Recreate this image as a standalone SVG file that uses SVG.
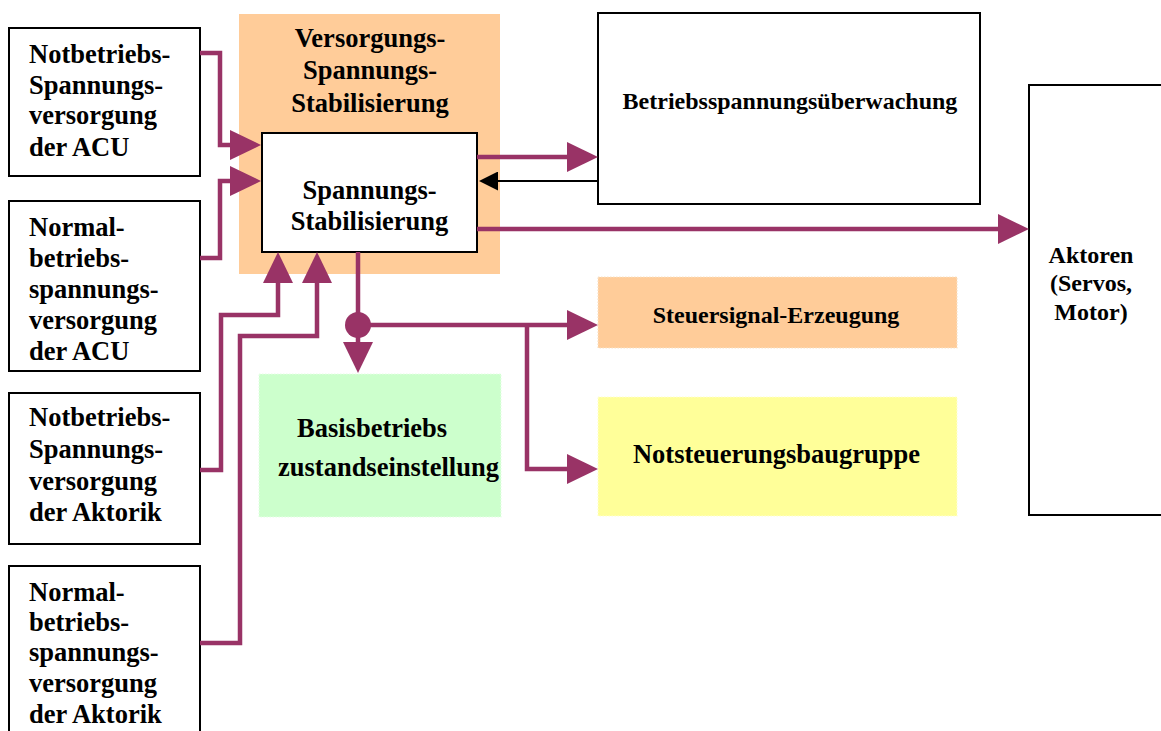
<svg xmlns="http://www.w3.org/2000/svg" width="1161" height="731" viewBox="0 0 1161 731">
  <style>
    .box { fill: #ffffff; stroke: #000000; stroke-width: 2; }
    .t { font-family: "Liberation Serif", "Times New Roman", serif; font-weight: bold; font-size: 26.5px; fill: #000000; }
    .t24 { font-family: "Liberation Serif", "Times New Roman", serif; font-weight: bold; font-size: 24px; fill: #000000; }
    .mid { text-anchor: middle; }
    .wire { fill: none; stroke: #993366; stroke-width: 4.5; stroke-linejoin: miter; stroke-linecap: butt; }
    .back { fill: none; stroke: #000000; stroke-width: 2; }
    .dotted { stroke-width: 1.2; stroke-dasharray: 1.5 1.5; }
  </style>
  <defs>
    <marker id="arr" markerUnits="userSpaceOnUse" markerWidth="31" markerHeight="30" viewBox="0 0 31 30" refX="0" refY="15" orient="auto">
      <path d="M0,0 L31,15 L0,30 Z" fill="#993366"/>
    </marker>
    <marker id="arrBlack" markerUnits="userSpaceOnUse" markerWidth="19" markerHeight="19" viewBox="0 0 19 19" refX="0" refY="9.5" orient="auto">
      <path d="M0,0 L19,9.5 L0,19 Z" fill="#000000"/>
    </marker>
  </defs>

  <rect width="1161" height="731" fill="#ffffff"/>

  <!-- supply inputs -->
  <g id="notbetrieb-acu">
    <rect class="box" x="9" y="28" width="191" height="148"/>
    <text class="t" x="29" y="63">Notbetriebs-</text>
    <text class="t" x="29" y="94">Spannungs-</text>
    <text class="t" x="29" y="124">versorgung</text>
    <text class="t" x="29" y="156">der ACU</text>
  </g>
  <g id="normalbetrieb-acu">
    <rect class="box" x="9" y="201" width="191" height="170"/>
    <text class="t" x="29" y="236">Normal-</text>
    <text class="t" x="29" y="267">betriebs-</text>
    <text class="t" x="29" y="298">spannungs-</text>
    <text class="t" x="29" y="329">versorgung</text>
    <text class="t" x="29" y="360">der ACU</text>
  </g>
  <g id="notbetrieb-aktorik">
    <rect class="box" x="9" y="393" width="191" height="151"/>
    <text class="t" x="29" y="426">Notbetriebs-</text>
    <text class="t" x="29" y="458">Spannungs-</text>
    <text class="t" x="29" y="490">versorgung</text>
    <text class="t" x="29" y="521">der Aktorik</text>
  </g>
  <g id="normalbetrieb-aktorik">
    <rect class="box" x="9" y="566" width="191" height="180"/>
    <text class="t" x="29" y="601">Normal-</text>
    <text class="t" x="29" y="631">betriebs-</text>
    <text class="t" x="29" y="661">spannungs-</text>
    <text class="t" x="29" y="692">versorgung</text>
    <text class="t" x="29" y="723">der Aktorik</text>
  </g>

  <!-- stabilisation block -->
  <g id="versorgungs-stabilisierung">
    <rect x="239" y="14" width="261" height="260" fill="#FFCC99"/>
    <text class="t mid" x="370" y="47">Versorgungs-</text>
    <text class="t mid" x="370" y="79">Spannungs-</text>
    <text class="t mid" x="370" y="112">Stabilisierung</text>
  </g>
  <g id="spannungs-stabilisierung">
    <rect class="box" x="262" y="133" width="215" height="119"/>
    <text class="t mid" x="369.5" y="199">Spannungs-</text>
    <text class="t mid" x="369.5" y="230">Stabilisierung</text>
  </g>

  <g id="betriebsspannungsueberwachung">
    <rect class="box" x="598" y="13" width="382" height="191"/>
    <text class="t24 mid" x="790" y="109">Betriebsspannungsüberwachung</text>
  </g>

  <g id="aktoren">
    <rect class="box" x="1029" y="85" width="140" height="430"/>
    <text class="t24 mid" x="1091" y="263">Aktoren</text>
    <text class="t24 mid" x="1091" y="291">(Servos,</text>
    <text class="t24 mid" x="1091" y="320">Motor)</text>
  </g>

  <g id="steuersignal-erzeugung">
    <rect class="dotted" x="598" y="277" width="359" height="71" fill="#FFCC99" stroke="#F7E2C8"/>
    <text class="t24 mid" x="776" y="323">Steuersignal-Erzeugung</text>
  </g>

  <g id="notsteuerungsbaugruppe">
    <rect class="dotted" x="598" y="397" width="359" height="119" fill="#FFFF99" stroke="#FFFFD0"/>
    <text class="t mid" x="776.5" y="463">Notsteuerungsbaugruppe</text>
  </g>

  <g id="basisbetriebs-zustandseinstellung">
    <rect class="dotted" x="259" y="374" width="242" height="143" fill="#CCFFCC" stroke="#E6FFE6"/>
    <text class="t" x="297" y="437">Basisbetriebs</text>
    <text class="t" x="278" y="476">zustandseinstellung</text>
  </g>

  <!-- connectors -->
  <g id="connectors">
    <path class="wire" d="M200,53 H220 V145 H230" marker-end="url(#arr)"/>
    <path class="wire" d="M200,258 H220 V181 H230" marker-end="url(#arr)"/>
    <path class="wire" d="M200,470 H221 V315 H278 V283" marker-end="url(#arr)"/>
    <path class="wire" d="M200,643 H240 V336 H317 V283" marker-end="url(#arr)"/>
    <path class="wire" d="M358,252 V342" marker-end="url(#arr)"/>
    <path class="wire" d="M358,325 H567" marker-end="url(#arr)"/>
    <path class="wire" d="M527,325 V469 H567" marker-end="url(#arr)"/>
    <circle cx="358" cy="325" r="13" fill="#993366"/>
    <path class="wire" d="M477,157 H567" marker-end="url(#arr)"/>
    <path class="wire" d="M477,229 H998" marker-end="url(#arr)"/>
    <path class="back" d="M598,181 H498" marker-end="url(#arrBlack)"/>
  </g>
</svg>
